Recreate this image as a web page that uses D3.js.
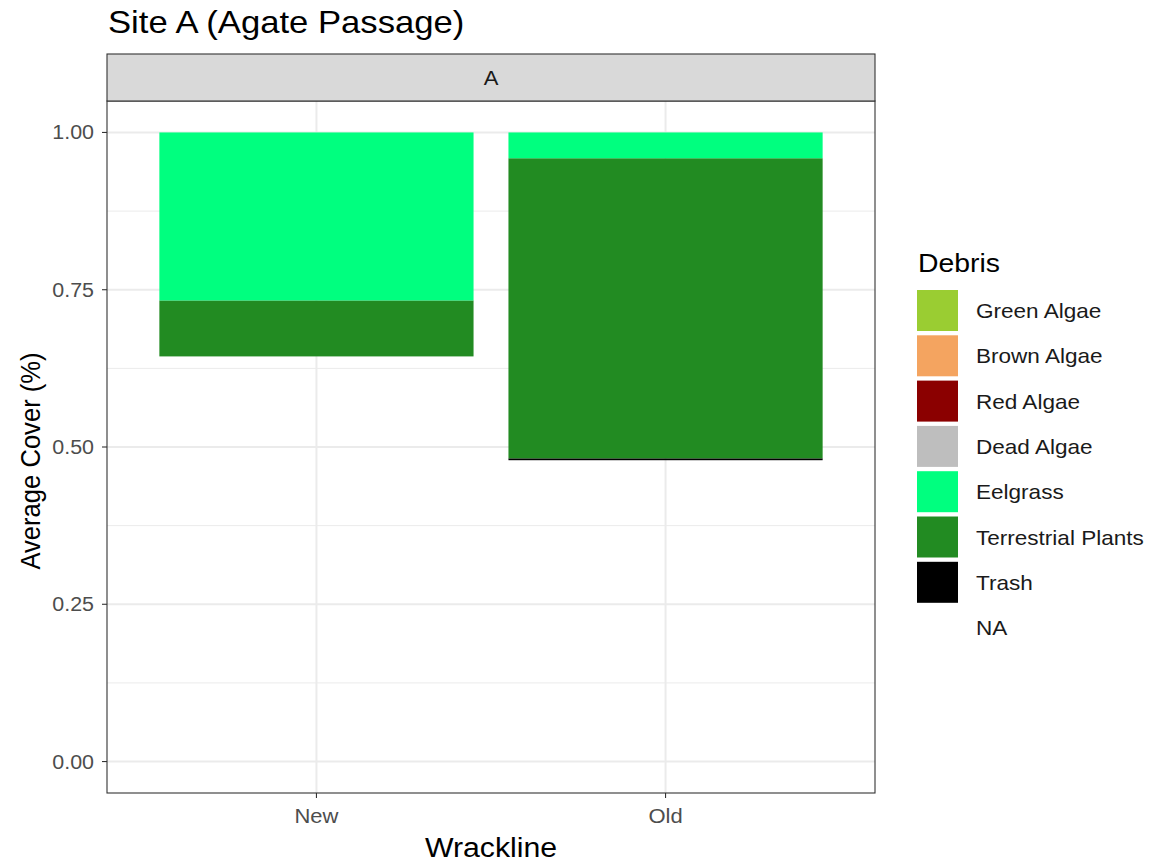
<!DOCTYPE html>
<html><head><meta charset="utf-8">
<script src="https://cdn.jsdelivr.net/npm/d3@7"></script>
<style>body{margin:0;background:#fff;font-family:"Liberation Sans",Arial,sans-serif;}</style>
</head><body>
<svg id="c" width="1155" height="865" font-family="Liberation Sans, Arial, sans-serif"></svg>
<script>
const wracklines = ["New", "Old"];
const debrisTypes = ["Green Algae","Brown Algae","Red Algae","Dead Algae","Eelgrass","Terrestrial Plants","Trash","NA"];
const debrisColors = ["#9ACD32","#F4A460","#8B0000","#BEBEBE","#00FF7F","#228B22","#000000","none"];
// average cover per debris type for each wrackline (stacked, first type on top)
const greenAlgae = [0, 0];
const brownAlgae = [0, 0];
const redAlgae = [0, 0];
const deadAlgae = [0, 0];
const eelgrass = [0.267, 0.041];
const terrestrial = [0.089, 0.477];
const trash = [0, 0.003];
const naCover = [0.644, 0.479];
const yTicks = [0, 0.25, 0.5, 0.75, 1.0];
const yMinor = [0.125, 0.375, 0.625, 0.875];

const series = [greenAlgae, brownAlgae, redAlgae, deadAlgae, eelgrass, terrestrial, trash, naCover];
const svg = d3.select("#c");
const L = 107, R = 875, T = 101, B = 793, stripTop = 54;
const SX = 1.1; // horizontal text stretch

function txt(g, x, y, s, size, fill, anchor, rot) {
  const t = g.append("text")
    .attr("transform", `translate(${x},${y})` + (rot ? ` rotate(${rot}) scale(1,${SX})` : ` scale(${SX},1)`))
    .attr("font-size", size).attr("fill", fill).attr("text-anchor", anchor || "start").text(s);
  return t;
}

// ggplot discrete axis: 0.6 unit expansion each side, bar width 0.9
const xIdx = d3.scaleLinear().domain([-0.6, 1.6]).range([L, R]);
const xc = d => xIdx(wracklines.indexOf(d));
const unit = xIdx(1) - xIdx(0);
const y = d3.scaleLinear().domain([-0.05, 1.05]).range([B, T]);
const color = d3.scaleOrdinal().domain(debrisTypes).range(debrisColors);

svg.append("rect").attr("x", L).attr("y", T).attr("width", R-L).attr("height", B-T).attr("fill", "#fff");
svg.append("g").selectAll("line").data(yMinor).join("line")
  .attr("x1", L).attr("x2", R).attr("y1", d=>y(d)).attr("y2", d=>y(d))
  .attr("stroke", "#EBEBEB").attr("stroke-width", 1);
svg.append("g").selectAll("line").data(yTicks).join("line")
  .attr("x1", L).attr("x2", R).attr("y1", d=>y(d)).attr("y2", d=>y(d))
  .attr("stroke", "#EBEBEB").attr("stroke-width", 2);
svg.append("g").selectAll("line").data(wracklines).join("line")
  .attr("x1", d=>xc(d)).attr("x2", d=>xc(d)).attr("y1", T).attr("y2", B)
  .attr("stroke", "#EBEBEB").attr("stroke-width", 2);

const rows = wracklines.map((w, i) => {
  const r = {w};
  debrisTypes.forEach((t, j) => r[t] = series[j][i]);
  return r;
});
const stacked = d3.stack().keys(debrisTypes.slice().reverse())(rows);
const bw = unit * 0.9;
svg.append("g").selectAll("g").data(stacked).join("g")
  .attr("fill", d => color(d.key))
  .selectAll("rect").data(d => d).join("rect")
  .attr("x", d => xc(d.data.w) - bw/2)
  .attr("width", bw)
  .attr("y", d => y(d[1]))
  .attr("height", d => Math.max(0, y(d[0]) - y(d[1])));

svg.append("rect").attr("x", L).attr("y", T).attr("width", R-L).attr("height", B-T)
  .attr("fill", "none").attr("stroke", "#333").attr("stroke-width", 1.1);
svg.append("rect").attr("x", L).attr("y", stripTop).attr("width", R-L).attr("height", T-stripTop)
  .attr("fill", "#D9D9D9").attr("stroke", "#333").attr("stroke-width", 1.1);
txt(svg, (L+R)/2, (stripTop+T)/2 + 7, "A", 20, "#1A1A1A", "middle");

// y axis ticks + labels
const ya = svg.append("g");
ya.selectAll("line").data(yTicks).join("line")
  .attr("x1", L-5).attr("x2", L).attr("y1", d=>y(d)).attr("y2", d=>y(d))
  .attr("stroke", "#333").attr("stroke-width", 1.1);
yTicks.forEach(v => txt(ya, 94, y(v) + 7, d3.format(".2f")(v), 19.5, "#4D4D4D", "end"));

// x axis ticks + labels
const xa = svg.append("g");
xa.selectAll("line").data(wracklines).join("line")
  .attr("x1", d=>xc(d)).attr("x2", d=>xc(d)).attr("y1", B).attr("y2", B+5)
  .attr("stroke", "#333").attr("stroke-width", 1.1);
wracklines.forEach(w => txt(xa, xc(w), 823, w, 20, "#4D4D4D", "middle"));

// titles
txt(svg, 108, 33, "Site A (Agate Passage)", 31.5, "#000", "start");
txt(svg, (L+R)/2, 857, "Wrackline", 27.5, "#000", "middle");
txt(svg, 40, 461, "Average Cover (%)", 25.6, "#000", "middle", -90);

// legend
const lg = svg.append("g");
txt(lg, 918, 272, "Debris", 25.8, "#000", "start");
debrisTypes.forEach((d, i) => {
  const y0 = 290 + i * 45.3;
  if (color(d) !== "none") {
    lg.append("rect").attr("x", 917).attr("y", y0).attr("width", 41).attr("height", 41).attr("fill", color(d));
  }
  txt(lg, 976, y0 + 28, d, 20.5, "#1A1A1A", "start");
});
</script>
</body></html>
